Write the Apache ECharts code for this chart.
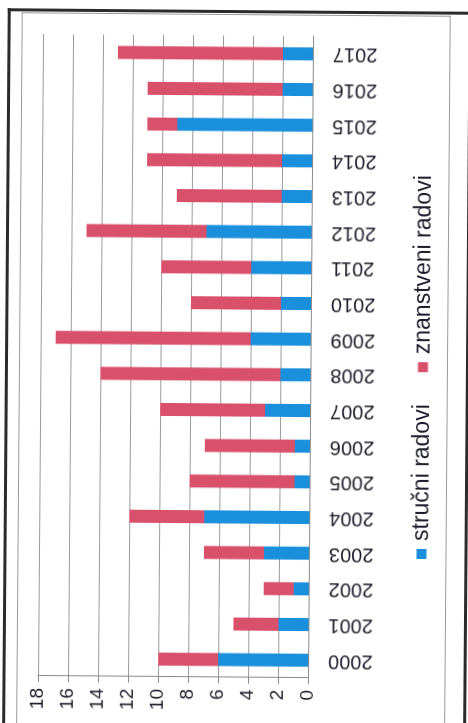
<!DOCTYPE html>
<html lang="hr">
<head>
  <meta charset="UTF-8">
  <title>Radovi po godinama</title>
  <script src="https://cdn.jsdelivr.net/npm/echarts@6/dist/echarts.min.js"></script>
  <style>
    html, body { margin: 0; padding: 0; width: 468px; height: 723px; overflow: hidden; background: #fff; }
    #page { position: absolute; left: 0; top: 0; width: 468px; height: 723px; transform: rotate(0.45deg); }
    /* okvir skena */
    #outer { position: absolute; left: 5px; top: 10px; width: 458px; height: 730px;
             border-left: 3px solid #2b2b2b; border-top: 3px solid #2b2b2b; border-right: 3px solid #2b2b2b; }
    #inner { position: absolute; left: 19px; top: 14px; width: 427px; height: 730px;
             border: 1px solid #9a9a9a; border-bottom: none; }
    /* graf je nacrtan uspravno pa zarotiran, kao na skenu */
    #main { position: absolute; left: -127.5px; top: 127.5px; width: 723px; height: 468px;
            transform: rotate(-90deg); }
  </style>
</head>
<body>
  <div id="page">
    <div id="outer"></div>
    <div id="inner"></div>
    <div id="main"></div>
  </div>
<script>
  var godine = ['2000', '2001', '2002', '2003', '2004', '2005', '2006', '2007', '2008',
                '2009', '2010', '2011', '2012', '2013', '2014', '2015', '2016', '2017'];
  var strucni = [6, 2, 1, 3, 7, 1, 1, 3, 2, 4, 2, 4, 7, 2, 2, 9, 2, 2];
  var znanstveni = [4, 3, 2, 4, 5, 7, 6, 7, 12, 13, 6, 6, 8, 7, 9, 2, 9, 11];
  var osTicks = { min: 0, max: 18, interval: 2 };

  var myChart = echarts.init(document.getElementById('main'));

  var option = {
    animation: false,
    backgroundColor: 'transparent',
    textStyle: { fontFamily: 'Liberation Sans, Arial, sans-serif' },
    grid: { left: 46, right: 35, top: 40, bottom: 158 },
    legend: {
      left: 161,
      top: 406,
      icon: 'rect',
      itemWidth: 10,
      itemHeight: 10,
      itemGap: 32,
      textStyle: { fontSize: 23, color: '#1d1d2b', padding: [0, 0, 0, 3] },
      data: ['stručni radovi', 'znanstveni radovi']
    },
    xAxis: {
      type: 'category',
      data: godine,
      axisLine: { lineStyle: { color: '#8a8a8a' } },
      axisTick: { length: 6, lineStyle: { color: '#8a8a8a' } },
      axisLabel: { rotate: 90, fontSize: 20, margin: 20, color: '#1d1d2b' }
    },
    yAxis: {
      type: 'value',
      min: osTicks.min,
      max: osTicks.max,
      interval: osTicks.interval,
      axisLine: { show: true, lineStyle: { color: '#8a8a8a' } },
      axisTick: { show: true, length: 6, lineStyle: { color: '#8a8a8a' } },
      axisLabel: { fontSize: 19, margin: 12, color: '#1d1d2b' },
      splitLine: { lineStyle: { color: '#9a9a9a' } }
    },
    series: [{
      name: 'stručni radovi',
      type: 'bar',
      stack: 'ukupno',
      barWidth: 13,
      itemStyle: { color: '#1a8fdb' },
      data: strucni
    }, {
      name: 'znanstveni radovi',
      type: 'bar',
      stack: 'ukupno',
      barWidth: 13,
      itemStyle: { color: '#d9506b' },
      data: znanstveni
    }]
  };

  myChart.setOption(option);
</script>
</body>
</html>
